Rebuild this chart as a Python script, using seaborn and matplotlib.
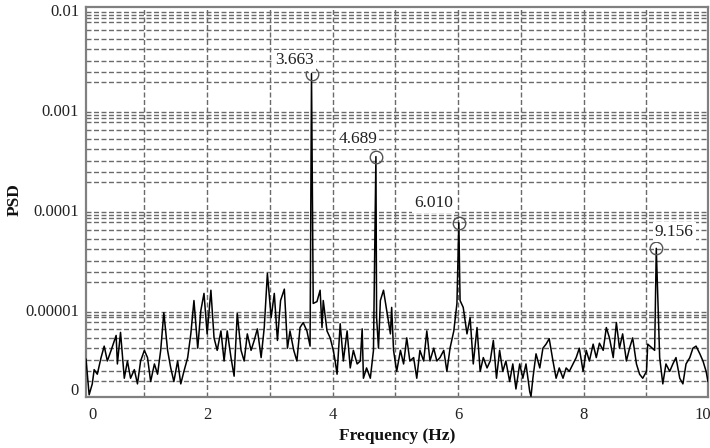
import numpy as np
import pandas as pd
import matplotlib
matplotlib.use("Agg")
import matplotlib.pyplot as plt
import seaborn as sns

# Background PSD spectrum (Hz, PSD)
freq = [0.07, 0.12, 0.17, 0.20, 0.25, 0.31, 0.36, 0.41, 0.47, 0.55, 0.57, 0.62,
        0.68, 0.73, 0.78, 0.84, 0.89, 0.94, 1.00, 1.05, 1.10, 1.16, 1.21, 1.26,
        1.31, 1.37, 1.42, 1.47, 1.53, 1.58, 1.63, 1.69, 1.74, 1.79, 1.85, 1.90,
        1.95, 2.00, 2.06, 2.11, 2.16, 2.22, 2.27, 2.32, 2.38, 2.43, 2.48, 2.54,
        2.59, 2.64, 2.70, 2.75, 2.80, 2.86, 2.91, 2.96, 3.02, 3.07, 3.12, 3.17,
        3.23, 3.28, 3.32, 3.38, 3.43, 3.48, 3.53, 3.59, 3.64, 3.69, 3.75, 3.80,
        3.83, 3.85, 3.91, 3.96, 4.01, 4.04, 4.07, 4.12, 4.17, 4.23, 4.28, 4.33,
        4.39, 4.44, 4.47, 4.49, 4.54, 4.60, 4.65, 4.70, 4.73, 4.76, 4.81, 4.86,
        4.92, 4.94, 4.97, 5.02, 5.08, 5.13, 5.18, 5.23, 5.29, 5.34, 5.39, 5.45,
        5.50, 5.55, 5.61, 5.66, 5.71, 5.77, 5.82, 5.87, 5.93, 5.98, 6.03, 6.08,
        6.14, 6.19, 6.24, 6.30, 6.35, 6.40, 6.46, 6.51, 6.56, 6.61, 6.66, 6.71,
        6.76, 6.82, 6.87, 6.92, 6.98, 7.03, 7.08, 7.14, 7.16, 7.19, 7.24, 7.30,
        7.35, 7.40, 7.45, 7.51, 7.56, 7.61, 7.67, 7.72, 7.77, 7.83, 7.88, 7.93,
        7.99, 8.04, 8.09, 8.15, 8.20, 8.25, 8.31, 8.36, 8.41, 8.47, 8.52, 8.57,
        8.62, 8.68, 8.73, 8.78, 8.84, 8.89, 8.94, 9.00, 9.02, 9.13, 9.21, 9.26,
        9.31, 9.37, 9.42, 9.47, 9.53, 9.58, 9.63, 9.69, 9.74, 9.79, 9.85, 9.90,
        9.95, 9.98]
psd = [3.2e-6, 1.4e-6, 1.8e-6, 2.5e-6, 2.25e-6, 3.3e-6, 4.3e-6, 3.05e-6, 3.9e-6, 5.5e-6, 2.85e-6, 5.9e-6,
       2.05e-6, 3.05e-6, 2.05e-6, 2.5e-6, 1.8e-6, 3.05e-6, 3.9e-6, 3.3e-6, 1.9e-6, 2.85e-6, 2.25e-6, 3.9e-6,
       9.3e-6, 3.9e-6, 2.6e-6, 1.9e-6, 3.05e-6, 1.8e-6, 2.4e-6, 3.3e-6, 5.7e-6, 1.23e-5, 4.1e-6, 9.8e-6,
       1.45e-5, 5.7e-6, 1.56e-5, 5.2e-6, 3.9e-6, 6.1e-6, 3.05e-6, 6.1e-6, 3.3e-6, 2.15e-6, 9.1e-6, 3.9e-6,
       3.05e-6, 5.7e-6, 3.9e-6, 4.9e-6, 6.4e-6, 3.3e-6, 6.6e-6, 2.3e-5, 8.3e-6, 1.45e-5, 4.9e-6, 1.23e-5,
       1.6e-5, 4.1e-6, 6.1e-6, 3.9e-6, 3.05e-6, 6.6e-6, 7.4e-6, 6.1e-6, 4.3e-6, 1.15e-5, 1.2e-5, 1.56e-5,
       6.6e-6, 1.23e-5, 6.1e-6, 5.2e-6, 3.9e-6, 3.05e-6, 2.25e-6, 7.2e-6, 3.05e-6, 6.1e-6, 2.6e-6, 3.9e-6,
       2.85e-6, 3.05e-6, 6.4e-6, 2.05e-6, 2.6e-6, 2.05e-6, 3.9e-6, 8.3e-6, 4.1e-6, 1.23e-5, 1.56e-5, 9.8e-6,
       5.7e-6, 1.05e-5, 3.9e-6, 2.4e-6, 3.9e-6, 2.85e-6, 5.2e-6, 3.05e-6, 3.3e-6, 2.05e-6, 3.9e-6, 3.05e-6,
       6.1e-6, 3.05e-6, 4.1e-6, 3.05e-6, 3.3e-6, 3.9e-6, 2.4e-6, 4.1e-6, 6.1e-6, 1.15e-5, 1.23e-5, 1.05e-5,
       5.7e-6, 8.3e-6, 2.85e-6, 6.6e-6, 2.4e-6, 3.3e-6, 2.6e-6, 3.05e-6, 4.9e-6, 2.05e-6, 3.9e-6, 2.4e-6,
       3.05e-6, 1.9e-6, 2.85e-6, 1.6e-6, 2.85e-6, 2.05e-6, 2.85e-6, 1.5e-6, 1.35e-6, 2.05e-6, 3.6e-6, 2.6e-6,
       4.1e-6, 4.5e-6, 5.1e-6, 3.05e-6, 2.05e-6, 2.6e-6, 2.05e-6, 2.6e-6, 2.4e-6, 2.85e-6, 3.3e-6, 4.1e-6,
       2.4e-6, 3.9e-6, 3.05e-6, 4.5e-6, 3.3e-6, 4.6e-6, 3.9e-6, 6.6e-6, 5.2e-6, 3.3e-6, 7.4e-6, 4.1e-6,
       5.7e-6, 3.05e-6, 4.1e-6, 5.2e-6, 2.85e-6, 2.25e-6, 2.05e-6, 2.4e-6, 4.5e-6, 3.9e-6, 3.3e-6, 1.8e-6,
       2.85e-6, 2.4e-6, 2.85e-6, 3.3e-6, 2.05e-6, 1.8e-6, 2.85e-6, 3.3e-6, 4.1e-6, 4.3e-6, 3.6e-6, 3.05e-6,
       2.4e-6, 1.9e-6]

# Dominant spectral peaks
peak_freq = [3.663, 4.689, 6.010, 9.156]
peak_psd = [2.3e-3, 3.4e-4, 7.4e-5, 4.1e-5]
# label offsets in points (dx, dy) from each peak marker
peak_label_offset = [(-12, 9.5), (-13, 13), (-18, 14), (13, 11.5)]

xtick_pos = [0.18, 2, 4, 6, 8, 9.9]
xtick_labels = ["0", "2", "4", "6", "8", "10"]
ytick_pos = [1e-2, 1e-3, 1e-4, 1e-5, 1.6e-6]
ytick_labels = ["0.01", "0.001", "0.0001", "0.00001", "0"]

sns.set_theme(style="white")
plt.rcParams["font.family"] = ["Liberation Serif", "DejaVu Serif"]

df = pd.DataFrame({"f": freq + peak_freq, "psd": psd + peak_psd}).sort_values("f")

W, H = 710, 448
fig = plt.figure(figsize=(W / 100, H / 100), dpi=100)
ax = fig.add_axes([86 / W, (H - 397) / H, (708 - 86) / W, (397 - 7) / H])
ax.set_yscale("log")
ax.set_xlim(0.07, 9.98)
ax.set_ylim(1.33e-6, 1.07e-2)

grid_kw = dict(color="#6a6a6a", lw=1.0, ls=(0, (3.6, 1.8)), zorder=1)
for xv in range(1, 10):
    ax.axvline(xv, **grid_kw)
# dashed reference levels inside each decade
level_offsets = [0.02, 0.05, 0.08, 0.125, 0.20, 0.29, 0.39, 0.51, 0.62, 0.72]
for k in (-2, -3, -4, -5):
    for off in level_offsets:
        ax.axhline(10 ** (k - off), **grid_kw)

sns.lineplot(data=df, x="f", y="psd", ax=ax, color="black", lw=1.1,
             estimator=None, sort=True, zorder=3)

ax.plot(peak_freq, peak_psd, "o", mfc="none", mec="#555555", mew=1.0, ms=9, zorder=4)
for fx, py, (dx, dy) in zip(peak_freq, peak_psd, peak_label_offset):
    ax.annotate(f"{fx:.3f}", xy=(fx, py), xytext=(dx, dy), textcoords="offset points",
                ha="center", va="center", fontsize=12.5, color="#222222", zorder=5,
                bbox=dict(boxstyle="square,pad=0.12", fc="white", ec="none"))

ax.set_xticks(xtick_pos)
ax.set_xticklabels(xtick_labels)
ax.set_yticks(ytick_pos)
ax.set_yticklabels(ytick_labels)
ax.yaxis.set_minor_locator(matplotlib.ticker.NullLocator())
ax.tick_params(axis="both", length=0, labelsize=12, colors="#222222")
ax.tick_params(axis="y", pad=5)
ax.tick_params(axis="x", pad=7)

for side, sp in ax.spines.items():
    sp.set_visible(True)
    sp.set_color("#808080")
    sp.set_linewidth(1.6)

ax.set_xlabel("Frequency (Hz)", fontsize=12.5, fontweight="bold", color="#111111")
ax.set_ylabel("PSD", fontsize=12.5, fontweight="bold", color="#111111")
ax.xaxis.set_label_coords(0.5, -0.079)
ax.yaxis.set_label_coords(-0.102, 0.505)

fig.savefig("out.png", dpi=100)
